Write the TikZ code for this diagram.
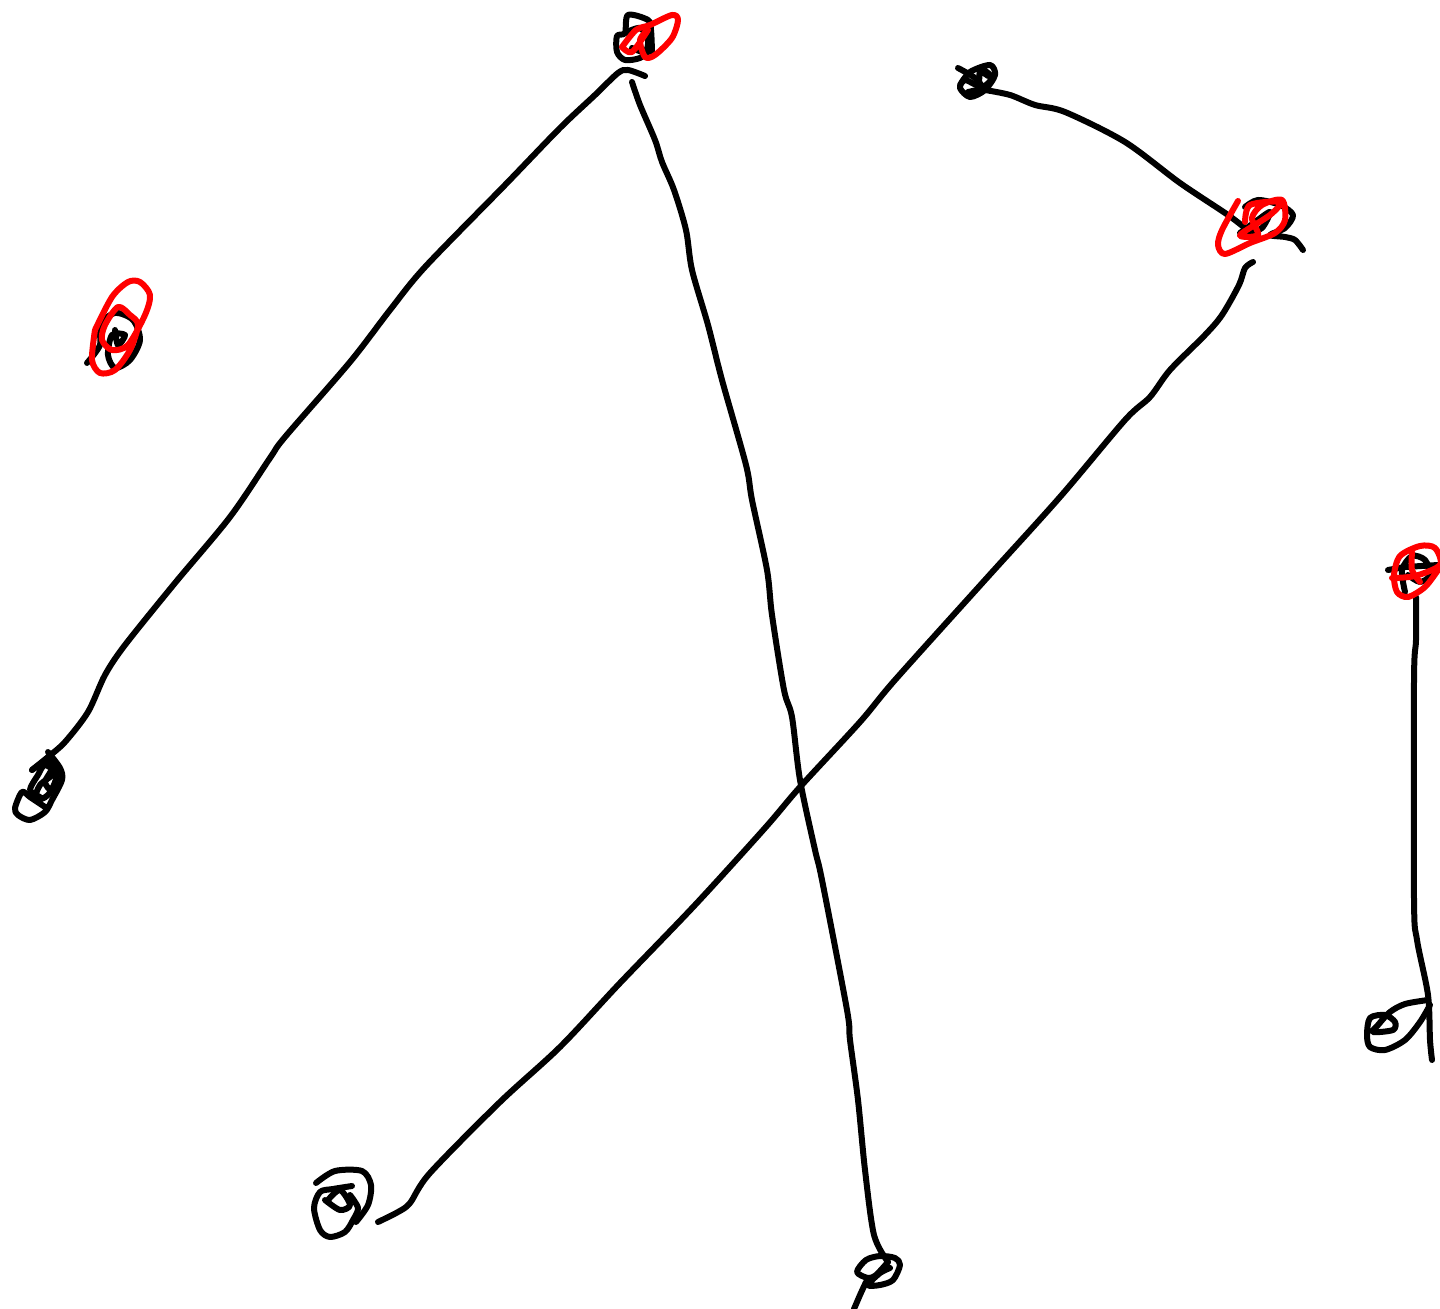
\documentclass[tikz,border=0pt]{standalone}
\tikzset{
 ink/.style={line width=3pt,line cap=round,line join=round,black},
 redink/.style={line width=3pt,line cap=round,line join=round,red},
 stroke/.style={smooth,tension=0.5}
}
\begin{document}
\begin{tikzpicture}[x=0.5pt,y=-0.5pt]
\useasboundingbox (0,0) rectangle (1440,1309);
% long strokes
\draw[ink] plot[stroke] coordinates {(645,76) (628,70) (618,73) (595,95) (560,128) (505,185) (425,267) (390,310) (350,362) (285,437) (270,458) (230,517) (175,583) (125,645) (105,675) (88,712) (65,742) (48,757) (32,770)};
\draw[ink] plot[stroke] coordinates {(632,82) (640,105) (655,140) (662,162) (674,190) (686,230) (692,270) (708,325) (722,380) (746,465) (752,500) (767,570) (772,615) (784,690) (792,717) (800,780) (815,850) (822,880) (847,1010) (850,1040) (858,1100) (865,1170) (874,1235) (888,1262)};
\draw[ink] plot[stroke] coordinates {(1253,262) (1245,268) (1239,285) (1222,315) (1205,335) (1170,370) (1150,397) (1125,420) (1060,497) (985,580) (895,680) (860,722) (800,787) (765,828) (695,905) (620,983) (560,1047) (500,1102) (430,1173) (410,1203) (398,1212) (378,1222)};
\draw[ink] plot[stroke] coordinates {(985,90) (1010,95) (1035,105) (1065,112) (1125,142) (1180,183) (1228,215) (1250,232)};
\draw[ink] plot[stroke] coordinates {(1416,597) (1416,640) (1414,680) (1414,900) (1417,940) (1428,995) (1430,1040) (1432,1060)};
% black scribbles
\draw[ink] plot[stroke] coordinates {(652,52) (651,30) (648,20) (628,15) (625,33) (617,36) (617,52) (625,60) (640,58) (650,50)};
\draw[ink] plot[stroke] coordinates {(625,33) (640,28) (648,40) (645,52) (632,48)};
\draw[ink] plot[stroke] coordinates {(87,363) (100,345) (100,325) (115,313) (133,320) (140,340) (130,360) (115,368) (108,355) (112,335) (125,335) (118,345) (115,330)};
\draw[ink] plot[stroke] coordinates {(48,752) (60,768) (62,780) (52,800) (45,812) (30,820) (18,815) (15,808) (22,792) (30,797) (45,807)};
\draw[ink] plot[stroke] coordinates {(32,770) (48,760) (55,772) (40,785) (35,800) (48,795) (57,775) (45,765) (38,775) (30,790) (40,797)};
\draw[ink] plot[stroke] coordinates {(42,762) (52,768) (45,782) (52,790) (58,772)};
\draw[ink] plot[stroke] coordinates {(316,1183) (335,1171) (362,1171) (371,1185) (368,1205) (356,1222)};
\draw[ink] plot[stroke] coordinates {(325,1200) (340,1210) (350,1205) (340,1190) (328,1200)};
\draw[ink] plot[stroke] coordinates {(352,1186) (333,1189) (320,1192) (314,1208) (320,1230) (330,1237) (345,1232) (353,1220) (358,1208) (350,1195)};
\draw[ink] plot[stroke] coordinates {(888,1262) (876,1275) (868,1278) (857,1272) (866,1260) (880,1256) (895,1258) (900,1265) (893,1280) (880,1285) (868,1285) (880,1273) (890,1268)};
\draw[ink] plot[stroke] coordinates {(866,1282) (860,1295) (854,1309)};
\draw[ink] plot[stroke] coordinates {(1245,207) (1258,200) (1280,205) (1293,215) (1285,228) (1270,235) (1285,237) (1295,240) (1303,250)};
\draw[ink] plot[stroke] coordinates {(1240,233) (1255,222) (1270,212) (1262,228) (1250,232)};
\draw[ink] plot[stroke] coordinates {(958,68) (975,78) (985,90)};
\draw[ink] plot[stroke] coordinates {(960,85) (970,72) (990,65) (995,75) (985,90) (970,97) (960,88) (965,80) (978,85) (980,72) (988,76)};
\draw[ink] plot[stroke] coordinates {(968,92) (982,88) (992,78) (984,70)};
\draw[ink] (1388,570) -- (1405,567) -- (1438,565);
\draw[ink] plot[stroke] coordinates {(1405,592) (1402,570) (1412,556) (1425,560) (1430,575) (1420,582) (1408,575)};
\draw[ink] plot[stroke] coordinates {(1428,1000) (1405,1004) (1390,1012) (1378,1025) (1373,1032) (1393,1030) (1395,1022) (1385,1015) (1370,1018) (1367,1035) (1370,1047) (1385,1050) (1405,1040) (1420,1022) (1430,1005)};
% red scribbles
\draw[redink] plot[stroke] coordinates {(622,47) (636,30) (650,25) (672,15) (678,20) (672,38) (655,55) (645,57) (640,40) (648,30) (632,52) (622,47)};
\draw[redink] plot[stroke] coordinates {(95,330) (92,360) (100,373) (115,370) (130,350) (138,325) (130,315) (118,307) (105,325) (102,340) (112,350) (128,345) (145,315) (150,295) (140,282) (128,282) (112,297) (95,330)};
\draw[redink] plot[stroke] coordinates {(1238,201) (1222,230) (1218,245) (1225,254) (1250,243) (1275,233) (1285,220) (1282,200) (1262,205) (1252,218) (1258,235) (1240,235) (1270,215) (1280,202) (1250,205) (1245,222)};
\draw[redink] plot[stroke] coordinates {(1392,578) (1415,576) (1440,565) (1435,548) (1420,546) (1400,556) (1394,575) (1397,592) (1408,597) (1425,587) (1438,570)};
\draw[redink] plot[stroke] coordinates {(1412,552) (1412,570) (1420,582)};
\end{tikzpicture}
\end{document}
